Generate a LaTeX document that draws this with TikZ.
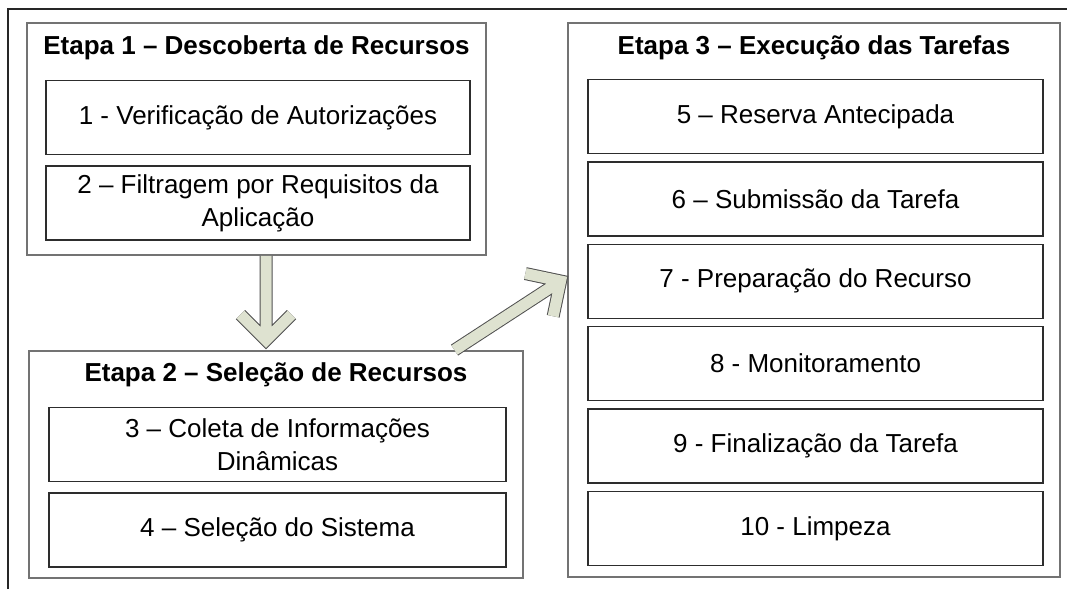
\documentclass[tikz,border=0pt]{standalone}
\usepackage{fontspec}
\setmainfont{Liberation Sans}
\usetikzlibrary{positioning,calc}
\definecolor{setafundo}{RGB}{222,226,208}
\definecolor{setalinha}{RGB}{80,80,80}
\definecolor{etapalinha}{RGB}{115,115,115}
\definecolor{passolinha}{RGB}{45,45,45}
\tikzset{
  etapa/.style={draw=etapalinha, line width=1.8pt, inner sep=0pt},
  titulo/.style={font=\fontsize{26}{32}\selectfont\bfseries, anchor=base},
  passo/.style={draw=passolinha, line width=1.5pt, minimum height=74pt,
    align=center, inner sep=0pt, font=\fontsize{26}{33}\selectfont},
  seta borda/.style={draw=setalinha, line width=13pt, line join=miter},
  seta corpo/.style={draw=setafundo, line width=11pt, line join=miter},
}
\newcommand{\setagrossa}[2]{%
  \draw[seta borda] (#1) -- (#2) ($(#2)!36pt!45:(#1)$) -- (#2) -- ($(#2)!36pt!-45:(#1)$);
  \draw[seta corpo] (#1) -- (#2) ($(#2)!36pt!45:(#1)$) -- (#2) -- ($(#2)!36pt!-45:(#1)$);
}

\begin{document}
\begin{tikzpicture}[x=1pt,y=-1pt]
  \useasboundingbox (0,0) rectangle (1067,589);

  % Moldura
  \draw[line width=1.5pt, black!85] (8,589) -- (8,9) -- (1067,9);

  % Etapa 1
  \node[etapa, minimum width=459pt, minimum height=232pt] (et1) at (256.5,139) {};
  \node[titulo] (t1) at ($(et1.north)+(0,32)$) {Etapa 1 – Descoberta de Recursos};
  \node[passo, minimum width=424pt] (p1) at (258,117.5) {1 - Verificação de Autorizações};
  \node[passo, minimum width=424pt, below=10pt of p1] (p2) {2 – Filtragem por Requisitos da\\Aplicação};

  % Etapa 2
  \node[etapa, minimum width=494pt, minimum height=227pt] (et2) at (276,464.5) {};
  \node[titulo] (t2) at ($(et2.north)+(0,31)$) {Etapa 2 – Seleção de Recursos};
  \node[passo, minimum width=457pt] (p3) at (277.5,444.5) {3 – Coleta de Informações\\Dinâmicas};
  \node[passo, minimum width=457pt, below=10pt of p3] (p4) {4 – Seleção do Sistema};

  % Etapa 3
  \node[etapa, minimum width=492pt, minimum height=554pt] (et3) at (814,300) {};
  \node[titulo] (t3) at ($(et3.north)+(0,32)$) {Etapa 3 – Execução das Tarefas};
  \node[passo, minimum width=455pt] (p5) at (815.5,116.5) {5 – Reserva Antecipada};
  \node[passo, minimum width=455pt, below=6.9pt of p5] (p6) {6 – Submissão da Tarefa};
  \node[passo, minimum width=455pt, below=6.9pt of p6] (p7) {7 - Preparação do Recurso};
  \node[passo, minimum width=455pt, below=6.9pt of p7] (p8) {8 - Monitoramento};
  \node[passo, minimum width=455pt, below=6.9pt of p8] (p9) {9 - Finalização da Tarefa};
  \node[passo, minimum width=455pt, below=6.9pt of p9] (p10) {10 - Limpeza};

  % Setas
  \coordinate (s1a) at ($(et1.south)+(9.5,0)$);
  \coordinate (s1b) at ($(et2.north)+(-10,-10)$);
  \coordinate (s2a) at ($(et2.north west)!0.86!(et2.north east)$);
  \coordinate (s2b) at ($(et3.west)+(-6.5,-19)$);
  \setagrossa{s1a}{s1b}
  \setagrossa{s2a}{s2b}
\end{tikzpicture}
\end{document}
